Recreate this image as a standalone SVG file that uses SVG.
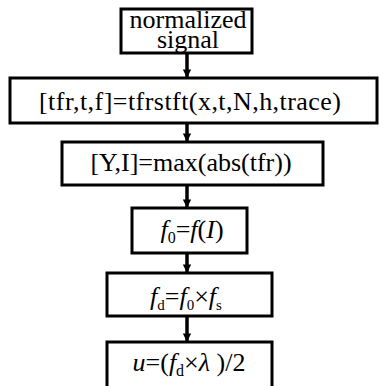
<svg xmlns="http://www.w3.org/2000/svg" width="379" height="386" viewBox="0 0 379 386">
<style>
.box{fill:#fff;stroke:#000;stroke-width:3}
.t{font-family:"Liberation Serif","Times New Roman",serif;font-size:26px;fill:#000}
.i{font-style:italic}
.arr{stroke:#000;stroke-width:3.5;fill:none}
</style>
<defs>
<marker id="ah" viewBox="0 0 10 10" refX="9" refY="5" markerWidth="2.4" markerHeight="3.2" orient="auto" markerUnits="strokeWidth"><path d="M0,0L10,5L0,10z" fill="#000"/></marker>
</defs>
<rect width="379" height="386" fill="#fff"/>
<g id="connectors">
<line class="arr" x1="187" y1="53" x2="187" y2="77" marker-end="url(#ah)"/>
<line class="arr" x1="187" y1="123" x2="187" y2="141" marker-end="url(#ah)"/>
<line class="arr" x1="187" y1="185" x2="187" y2="207" marker-end="url(#ah)"/>
<line class="arr" x1="187" y1="253" x2="187" y2="272" marker-end="url(#ah)"/>
<line class="arr" x1="187" y1="316" x2="187" y2="341" marker-end="url(#ah)"/>
</g>
<g id="n1">
<rect class="box" x="121" y="9" width="131" height="44"/>
<text class="t" x="188" y="28" text-anchor="middle" font-size="22">normalized</text>
<text class="t" x="188" y="48" text-anchor="middle" font-size="22">signal</text>
</g>
<g id="n2">
<rect class="box" x="10" y="78" width="367" height="45"/>
<text class="t" x="190" y="110" text-anchor="middle" textLength="302">[tfr,t,f]=tfrstft(x,t,N,h,trace)</text>
</g>
<g id="n3">
<rect class="box" x="62" y="142" width="261" height="43"/>
<text class="t" x="191" y="171" text-anchor="middle" font-size="25">[Y,I]=max(abs(tfr))</text>
</g>
<g id="n4">
<rect class="box" x="132" y="208" width="115" height="45"/>
<text class="t" x="192" y="238" text-anchor="middle" font-size="25"><tspan class="i">f</tspan><tspan font-size="16" dy="5">0</tspan><tspan dy="-5">=</tspan><tspan class="i">f</tspan>(<tspan class="i">I</tspan>)</text>
</g>
<g id="n5">
<rect class="box" x="107" y="273" width="165" height="43"/>
<text class="t" x="186" y="305" text-anchor="middle" font-size="24"><tspan class="i">f</tspan><tspan font-size="15" dy="5">d</tspan><tspan dy="-5">=</tspan><tspan class="i">f</tspan><tspan font-size="15" dy="5">0</tspan><tspan dy="-5">×</tspan><tspan class="i">f</tspan><tspan font-size="15" dy="5">s</tspan></text>
</g>
<g id="n6">
<rect class="box" x="107" y="342" width="165" height="48"/>
<text class="t" x="189" y="371" text-anchor="middle"><tspan class="i">u</tspan>=(<tspan class="i">f</tspan><tspan font-size="16" dy="5">d</tspan><tspan dy="-5">×</tspan><tspan class="i">λ</tspan> )/2</text>
</g>
</svg>
